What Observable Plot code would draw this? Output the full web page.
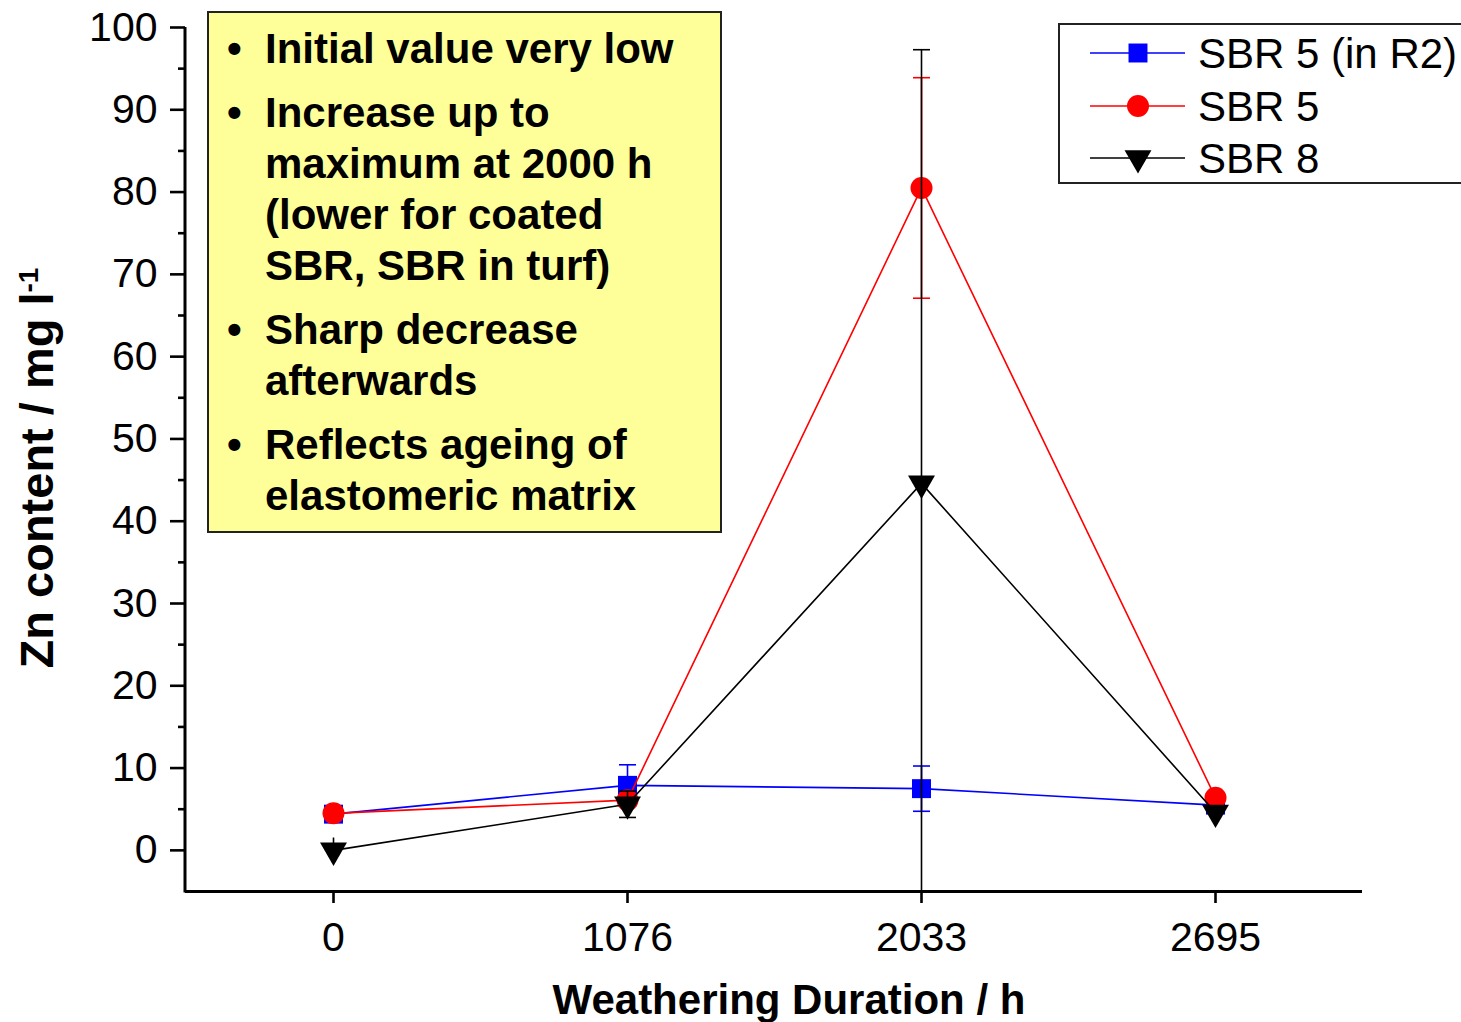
<!DOCTYPE html>
<html>
<head>
<meta charset="utf-8">
<script src="https://cdn.jsdelivr.net/npm/d3@7"></script>
<script src="https://cdn.jsdelivr.net/npm/@observablehq/plot@0.6"></script>
<style>
  html, body { margin: 0; padding: 0; background: #fff; }
  #wrap { position: relative; width: 1461px; height: 1022px; overflow: hidden; font-family: "Liberation Sans", Arial, sans-serif; }
  #note {
    position: absolute; left: 207px; top: 11px; width: 511px; height: 518px;
    border: 2px solid #222; background: #ffff99; box-sizing: content-box;
  }
  #note ul { list-style: none; margin: 0; padding: 10px 0 0 0; }
  #note li { position: relative; padding-left: 56px; font-weight: bold; font-size: 42px; line-height: 51px; white-space: nowrap; margin-bottom: 13px; color: #000; }
  #note li::before { content: "\2022"; position: absolute; left: 18px; top: 0; }
  #legend { position: absolute; left: 1058px; top: 23px; }
</style>
</head>
<body>
<div id="wrap">
  <div id="chart"></div>
  <div id="note"><ul id="notelist"></ul></div>
  <svg id="legend" width="420" height="162"></svg>
</div>
<script>
// ---- data ----
const times = ["0", "1076", "2033", "2695"];
const yTicks = [0, 10, 20, 30, 40, 50, 60, 70, 80, 90, 100];
const yMinorTicks = [5, 15, 25, 35, 45, 55, 65, 75, 85, 95];
const yDomain = [-5, 100];

const seriesNames = ["SBR 5 (in R2)", "SBR 5", "SBR 8"];
const sbr5R2 = [4.4, 7.9, 7.5, 5.5];
const sbr5R2Err = [0.6, 2.5, 2.75, 0];
const sbr5 = [4.5, 6.1, 80.5, 6.4];
const sbr5Err = [0.5, 0.6, 13.4, 0];
const sbr8 = [0.0, 5.6, 44.6, 4.6];
const sbr8Err = [1.5, 1.6, 52.7, 0];

const noteLines = [
  ["Initial value very low"],
  ["Increase up to", "maximum at 2000 h", "(lower for coated", "SBR, SBR in turf)"],
  ["Sharp decrease", "afterwards"],
  ["Reflects ageing of", "elastomeric matrix"]
];

const xLabel = "Weathering Duration / h";
const yLabel = "Zn content / mg l";
const yLabelSup = "-1";

// ---- styles ----
const triDown = {
  draw(ctx, size) {
    const y = Math.sqrt(size / (Math.sqrt(3) * 3));
    ctx.moveTo(0, 2 * y);
    ctx.lineTo(Math.sqrt(3) * y, -y);
    ctx.lineTo(-Math.sqrt(3) * y, -y);
    ctx.closePath();
  }
};
const capSymbol = {
  draw(ctx, size) {
    const w = Math.sqrt(size / Math.PI);
    ctx.moveTo(-w, 0);
    ctx.lineTo(w, 0);
  }
};
const styles = [
  {color: "#0000ff", symbol: "square", r: 10.7},
  {color: "#ff0000", symbol: "circle", r: 11},
  {color: "#000000", symbol: triDown, r: 10}
];
const values = [sbr5R2, sbr5, sbr8];
const errs = [sbr5R2Err, sbr5Err, sbr8Err];

const seriesMarks = [];
values.forEach((vals, s) => {
  const st = styles[s];
  const rows = times.map((t, i) => ({t, v: vals[i], e: errs[s][i]}));
  const errRows = rows.filter(d => d.e > 0);
  const caps = errRows.filter(d => d.e > 1.55).flatMap(d => [{t: d.t, y: d.v + d.e}, {t: d.t, y: d.v - d.e}]);
  seriesMarks.push(
    Plot.line(rows, {x: "t", y: "v", stroke: st.color, strokeWidth: 1.6}),
    Plot.ruleX(errRows, {x: "t", y1: d => d.v - d.e, y2: d => d.v + d.e, stroke: st.color, strokeWidth: 1.6, clip: true}),
    Plot.dot(caps, {x: "t", y: "y", symbol: capSymbol, r: 8.5, stroke: st.color, strokeWidth: 1.6, fill: "none", clip: true}),
    Plot.dot(rows, {x: "t", y: "v", symbol: st.symbol, r: st.r, fill: st.color, stroke: "none"})
  );
});

const chart = Plot.plot({
  width: 1461,
  height: 1022,
  marginLeft: 185,
  marginRight: 99,
  marginTop: 27,
  marginBottom: 131,
  style: {fontFamily: "'Liberation Sans', Arial, sans-serif", fontSize: "41px", color: "#000", background: "transparent", overflow: "visible"},
  x: {type: "point", domain: times, padding: 0.5, label: null},
  y: {domain: yDomain, label: null},
  marks: [
    ...seriesMarks,
    Plot.ruleY([yDomain[0]], {stroke: "#000", strokeWidth: 3}),
    Plot.axisY({ticks: yMinorTicks, tickSize: 7, tickFormat: () => "", strokeWidth: 2.6, label: null}),
    Plot.axisY({ticks: yTicks, tickSize: 15, tickPadding: 13, strokeWidth: 2.6, fontSize: 41, label: null}),
    Plot.axisX({tickSize: 12, tickPadding: 18, strokeWidth: 2.6, fontSize: 41, label: null})
  ]
});
document.getElementById("chart").appendChild(chart);

const svg = d3.select(chart);
// thicker tick marks
svg.selectAll('g[aria-label$="tick"]').attr("stroke-width", 2.6)
  .selectAll("path").attr("stroke-width", 2.6);

// left axis line
const ys = chart.scale("y");
svg.append("line")
  .attr("x1", 185).attr("x2", 185)
  .attr("y1", ys.apply(yDomain[1])).attr("y2", ys.apply(yDomain[0]) + 1.5)
  .attr("stroke", "#000").attr("stroke-width", 3);

// axis labels
svg.append("text")
  .attr("x", 789).attr("y", 1014)
  .attr("text-anchor", "middle")
  .attr("font-weight", "bold").attr("font-size", 42)
  .attr("fill", "#000")
  .text(xLabel);
const yl = svg.append("text")
  .attr("transform", "translate(53,468) rotate(-90)")
  .attr("text-anchor", "middle")
  .attr("font-weight", "bold").attr("font-size", 47)
  .attr("fill", "#000");
yl.append("tspan").text(yLabel);
yl.append("tspan").attr("dy", "-0.55em").attr("font-size", 28).text(yLabelSup);

// note box
const ul = d3.select("#notelist");
noteLines.forEach(lines => {
  const li = ul.append("li");
  li.html(lines.map(l => l.replace(/&/g, "&amp;")).join("<br>"));
});

// legend
const lg = d3.select("#legend");
lg.append("rect").attr("x", 1).attr("y", 1).attr("width", 440).attr("height", 159)
  .attr("fill", "#fff").attr("stroke", "#222").attr("stroke-width", 2);
const rowY = [30, 83, 135];
seriesNames.forEach((name, i) => {
  const st = styles[i];
  const g = lg.append("g").attr("transform", `translate(0,${rowY[i]})`);
  g.append("line").attr("x1", 32).attr("x2", 127).attr("y1", 0).attr("y2", 0)
    .attr("stroke", st.color).attr("stroke-width", 1.6);
  const sym = typeof st.symbol === "string"
    ? (st.symbol === "square" ? d3.symbolSquare : d3.symbolCircle)
    : st.symbol;
  g.append("path").attr("transform", "translate(80,0)")
    .attr("d", d3.symbol(sym, Math.PI * st.r * st.r)())
    .attr("fill", st.color);
  g.append("text").attr("x", 140).attr("y", 0).attr("dy", "0.36em")
    .attr("font-size", 42).attr("fill", "#000")
    .attr("font-family", "'Liberation Sans', Arial, sans-serif")
    .text(name);
});
</script>
</body>
</html>
